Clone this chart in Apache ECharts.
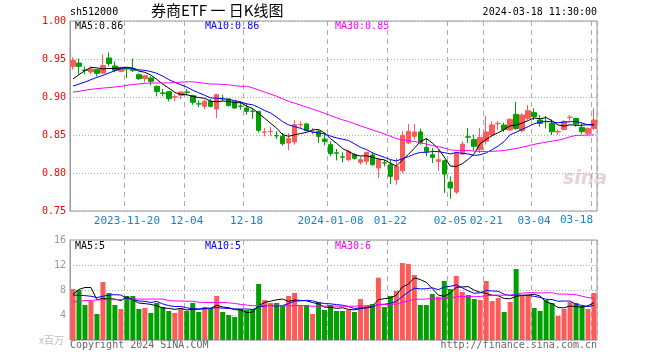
<!DOCTYPE html>
<html><head><meta charset="utf-8">
<script src="https://cdn.jsdelivr.net/npm/echarts@6/dist/echarts.min.js"></script>
<style>html,body{margin:0;padding:0;background:#fff}#c{width:660px;height:360px}</style>
</head><body><div id="c"></div>
<script>
var dates = ['2023-11-07','2023-11-08','2023-11-09','2023-11-10','2023-11-13','2023-11-14','2023-11-15','2023-11-16','2023-11-17',
'2023-11-20','2023-11-21','2023-11-22','2023-11-23','2023-11-24','2023-11-27','2023-11-28','2023-11-29','2023-11-30','2023-12-01',
'2023-12-04','2023-12-05','2023-12-06','2023-12-07','2023-12-08','2023-12-11','2023-12-12','2023-12-13','2023-12-14','2023-12-15',
'2023-12-18','2023-12-19','2023-12-20','2023-12-21','2023-12-22','2023-12-25','2023-12-26','2023-12-27','2023-12-28','2023-12-29',
'2024-01-02','2024-01-03','2024-01-04','2024-01-05',
'2024-01-08','2024-01-09','2024-01-10','2024-01-11','2024-01-12','2024-01-15','2024-01-16','2024-01-17','2024-01-18','2024-01-19',
'2024-01-22','2024-01-23','2024-01-24','2024-01-25','2024-01-26','2024-01-29','2024-01-30','2024-01-31','2024-02-01','2024-02-02',
'2024-02-05','2024-02-06','2024-02-07','2024-02-08','2024-02-19','2024-02-20',
'2024-02-21','2024-02-22','2024-02-23','2024-02-26','2024-02-27','2024-02-28','2024-02-29','2024-03-01',
'2024-03-04','2024-03-05','2024-03-06','2024-03-07','2024-03-08','2024-03-11','2024-03-12','2024-03-13','2024-03-14','2024-03-15',
'2024-03-18'];
var opens = [0.9403,0.9447,0.9355,0.9329,0.936,0.9316,0.9513,0.9408,0.9338,0.9377,0.937,0.9294,0.9241,0.925,0.914,0.9054,0.907,0.900,0.9022,0.9066,
0.9018,0.8910,0.8877,0.8943,0.8842,0.8980,0.8974,0.8943,0.8880,0.8855,0.8813,0.8811,0.8537,0.8546,0.8492,0.8482,0.8395,0.8408,0.8634,0.8645,
0.8546,0.8548,0.8447,0.8373,0.8265,0.8212,0.8175,0.8245,0.814,0.8153,0.8237,0.8065,0.8133,0.8109,0.7912,0.803,0.8395,0.8482,0.854,0.8338,
0.8241,0.8153,0.8162,0.7881,0.7749,0.825,0.8476,0.8439,0.8307,0.8417,0.8502,0.8649,0.8631,0.8565,0.8772,0.8557,0.8719,0.8794,0.8697,0.8677,
0.8653,0.8541,0.8574,0.8730,0.8719,0.86,0.8521,0.8587];
var closes = [0.9482,0.9403,0.9350,0.9368,0.9311,0.9412,0.9439,0.9351,0.9390,0.9368,0.935,0.9241,0.928,0.9206,0.9074,0.9048,0.8978,0.9002,0.9066,0.9062,
0.893,0.8908,0.8943,0.8877,0.9031,0.8976,0.8886,0.8855,0.8877,0.8811,0.8811,0.8561,0.854,0.8550,0.8488,0.8385,0.8452,0.8636,0.8638,0.8557,
0.8550,0.8482,0.8412,0.8254,0.8260,0.8208,0.8285,0.8193,0.8175,0.8272,0.8109,0.8175,0.8131,0.7956,0.8087,0.8496,0.8548,0.854,0.8395,0.8285,
0.8206,0.8175,0.7986,0.7802,0.8263,0.8381,0.8472,0.8351,0.8469,0.854,0.8633,0.8653,0.8574,0.8706,0.8587,0.8763,0.882,0.8741,0.8653,0.8675,
0.8543,0.8545,0.8675,0.8734,0.8644,0.8543,0.8587,0.8697];
var lows = [0.936,0.930,0.930,0.930,0.9272,0.930,0.9403,0.9324,0.9329,0.925,0.933,0.9223,0.9193,0.9153,0.9008,0.9008,0.8942,0.8942,0.8974,0.9018,
0.8899,0.8868,0.8842,0.886,0.8723,0.8943,0.8877,0.8842,0.8833,0.8767,0.871,0.8535,0.8482,0.8482,0.8447,0.836,0.8298,0.8373,0.8592,0.8548,
0.8504,0.8395,0.836,0.8219,0.8166,0.814,0.8153,0.8175,0.8109,0.8109,0.8096,0.7934,0.8087,0.7855,0.7846,0.80,0.8381,0.8439,0.8373,0.8219,
0.8131,0.803,0.7736,0.7662,0.7723,0.8241,0.8395,0.8294,0.8263,0.8373,0.848,0.8565,0.8543,0.8557,0.8565,0.853,0.8697,0.8697,0.8609,0.8587,
0.85,0.85,0.8557,0.8688,0.8609,0.8513,0.85,0.8565];
var highs = [0.9522,0.9504,0.940,0.9403,0.9365,0.9557,0.9588,0.9469,0.940,0.939,0.9504,0.9311,0.9285,0.9272,0.9153,0.9105,0.9075,0.9035,0.907,0.9105,
0.9031,0.8952,0.8965,0.8974,0.9044,0.9031,0.8978,0.8946,0.8943,0.8921,0.8855,0.8815,0.8592,0.8605,0.8548,0.8526,0.8526,0.8693,0.868,0.8658,
0.8592,0.857,0.8526,0.8417,0.8316,0.8272,0.8307,0.8263,0.8219,0.8276,0.8272,0.8197,0.8175,0.8175,0.8197,0.8548,0.8645,0.8645,0.8583,0.846,
0.8329,0.8307,0.8175,0.7956,0.8276,0.8417,0.8592,0.8504,0.8592,0.8755,0.8678,0.8684,0.8662,0.8719,0.8939,0.8785,0.8895,0.8851,0.8763,0.875,
0.8706,0.8574,0.8697,0.8763,0.8719,0.8653,0.86,0.8851];
var volumes = [8.16,8.0,5.6,6.24,4.16,9.28,7.52,5.6,4.96,7.04,
7.04,4.96,5.12,4.32,5.92,5.28,4.64,4.32,5.12,4.64,
5.92,4.48,5.28,5.1,7.04,4.48,4.0,3.68,4.96,4.8,
4.96,8.96,6.4,5.92,5.92,5.6,7.04,7.52,5.6,5.6,
4.16,6.08,4.8,5.6,4.64,4.64,4.8,4.48,6.56,5.5,
5.76,9.97,5.28,7.04,7.84,12.32,12.16,10.4,5.6,5.6,
7.36,6.93,9.44,8.16,10.24,7.68,7.2,6.56,6.4,9.44,
6.24,6.72,4.48,6.08,11.36,7.04,7.04,5.12,4.64,6.4,
5.92,3.84,4.96,6.08,5.92,5.44,4.96,7.52];
// moving-average values for days whose window reaches before the first shown day
var ma5Head = [0.9237,0.9294,0.9346,0.939];
var ma10Head = [0.9144,0.917,0.9197,0.9228,0.9258,0.9285,0.9316,0.9346,0.9373];
var ma30Head = [0.9065,0.9075,0.909,0.910,0.911,0.9117,0.9124,0.9131,0.914,0.9155,0.9165,0.9172,0.918,0.9183,0.9184,0.9185,0.9185,0.919,0.9195,0.92,
0.92,0.919,0.918,0.917,0.917,0.9165,0.916,0.915,0.914];
var vma5Head = [7.3,8.1,8.4,8.4];
var vma10Head = [7.2,7.15,7.1,7.0,6.8,7.0,7.2,7.25,7.2];
var vma30Head = [6.1,6.2,6.3,6.35,6.4,6.45,6.45,6.45,6.45,6.5,6.55,6.55,6.55,6.55,6.55,6.55,6.3,6.25,6.25,6.2,
6.2,6.05,6.0,6.0,6.0,6.0,5.95,5.85,5.7];
var tickDates = ['2023-11-20','2023-12-04','2023-12-18','2024-01-08','2024-01-22','2024-02-05','2024-02-21','2024-03-04','2024-03-18'];
var tickLabels = ['2023-11-20','12-04','12-18','2024-01-08','01-22','02-05','02-21','03-04','03-18'];

function ma(arr, n, head){
  return arr.map(function(v,i){
    if(i < n-1) return head[i];
    var s=0; for(var k=i-n+1;k<=i;k++) s+=arr[k]; return s/n;
  });
}
var kData = dates.map(function(d,i){return [opens[i],closes[i],lows[i],highs[i]];});
var UP='#ff5a5a', DOWN='#00a000';
var volData = volumes.map(function(v,i){return {value:v,itemStyle:{color: closes[i]>=opens[i]?UP:DOWN}};});
var isTick = function(i,v){return tickDates.indexOf(v)>=0;};
var lastTick = tickDates.length-1;
var MONO='"DejaVu Sans Mono", "Liberation Mono", monospace';

var chart = echarts.init(document.getElementById('c'), null, {renderer:'canvas'});
var xCommon = function(gi, showLabel){
  return {type:'category', gridIndex:gi, data:dates, boundaryGap:true,
    axisLine:{show:false}, axisTick:{show:false},
    axisLabel:{show:showLabel, interval:isTick, color:'#1a7fc9', fontSize:11, fontFamily:MONO, margin:5,
      formatter:function(v){var k=tickDates.indexOf(v);return (k>=0 && k<lastTick)?tickLabels[k]:'';}},
    splitLine:{show:true, interval:isTick, lineStyle:{color:'#aaa', type:[5,4], width:1}}};
};
chart.setOption({
  animation:false,
  backgroundColor:'#fff',
  grid:[{left:70, top:21, width:527, height:190, show:true, borderColor:'#999', borderWidth:1},
        {left:70, top:240, width:527, height:100, show:true, borderColor:'#999', borderWidth:1}],
  xAxis:[xCommon(0,true), xCommon(1,false)],
  yAxis:[{type:'value', gridIndex:0, min:0.75, max:1.0, interval:0.05,
     axisLine:{show:true, lineStyle:{color:'#999'}}, axisTick:{show:false},
     axisLabel:{color:'#ff0000', fontSize:10, fontFamily:MONO, margin:4, formatter:function(v){return v.toFixed(2);}},
     splitLine:{show:true, lineStyle:{color:'#aaa', type:[1,2]}}},
    {type:'value', gridIndex:1, min:0, max:16, interval:4,
     axisLine:{show:true, lineStyle:{color:'#999'}}, axisTick:{show:false},
     axisLabel:{color:'#999', fontSize:10, fontFamily:MONO, margin:4, formatter:function(v){return v===0?'':String(v);}},
     splitLine:{show:true, lineStyle:{color:'#aaa', type:[1,2]}}}],
  series:[
    {type:'candlestick', xAxisIndex:0, yAxisIndex:0, data:kData, barWidth:5,
     itemStyle:{color:UP, color0:DOWN, borderColor:UP, borderColor0:DOWN, borderWidth:1}},
    {type:'line', xAxisIndex:0, yAxisIndex:0, data:ma(closes,5,ma5Head), symbol:'none', lineStyle:{color:'#000', width:1}},
    {type:'line', xAxisIndex:0, yAxisIndex:0, data:ma(closes,10,ma10Head), symbol:'none', lineStyle:{color:'#0000ff', width:1}},
    {type:'line', xAxisIndex:0, yAxisIndex:0, data:ma(closes,30,ma30Head), symbol:'none', lineStyle:{color:'#ff00ff', width:1}},
    {type:'bar', xAxisIndex:1, yAxisIndex:1, data:volData, barWidth:5},
    {type:'line', xAxisIndex:1, yAxisIndex:1, data:ma(volumes,5,vma5Head), symbol:'none', lineStyle:{color:'#000', width:1}},
    {type:'line', xAxisIndex:1, yAxisIndex:1, data:ma(volumes,10,vma10Head), symbol:'none', lineStyle:{color:'#0000ff', width:1}},
    {type:'line', xAxisIndex:1, yAxisIndex:1, data:ma(volumes,30,vma30Head), symbol:'none', lineStyle:{color:'#ff00ff', width:1}}
  ],
  graphic:[
    {type:'text', left:70, top:7, style:{text:'sh512000', font:'10px '+MONO, fill:'#000'}},
    {type:'text', left:151, top:3, style:{text:'券商ETF 一 日K线图', font:'15px "Noto Sans CJK SC"', fill:'#000'}},
    {type:'text', right:63, top:7, style:{text:'2024-03-18 11:30:00', font:'10px '+MONO, fill:'#000'}},
    {type:'text', right:67, top:215, style:{text:tickLabels[lastTick], font:'11px '+MONO, fill:'#1a7fc9'}},
    {type:'text', left:75, top:21, style:{text:'MA5:0.86', font:'10px '+MONO, fill:'#000'}},
    {type:'text', left:205, top:21, style:{text:'MA10:0.86', font:'10px '+MONO, fill:'#0000ff'}},
    {type:'text', left:335, top:21, style:{text:'MA30:0.85', font:'10px '+MONO, fill:'#ff00ff'}},
    {type:'text', left:75, top:241, style:{text:'MA5:5', font:'10px '+MONO, fill:'#000'}},
    {type:'text', left:205, top:241, style:{text:'MA10:5', font:'10px '+MONO, fill:'#0000ff'}},
    {type:'text', left:335, top:241, style:{text:'MA30:6', font:'10px '+MONO, fill:'#ff00ff'}},
    {type:'text', left:39, top:335, style:{text:'x百万', font:'10px "Noto Sans CJK SC"', fill:'#bbb'}},
    {type:'text', left:70, top:340, style:{text:'Copyright 2024 SINA.COM', font:'10px '+MONO, fill:'#666'}},
    {type:'text', right:63, top:340, style:{text:'http://finance.sina.com.cn', font:'10px '+MONO, fill:'#666'}},
    {type:'text', left:563, top:170, style:{text:'sina', font:'italic bold 19px "DejaVu Sans"', fill:'#e8d4d4'}}
  ]
});
</script></body></html>
